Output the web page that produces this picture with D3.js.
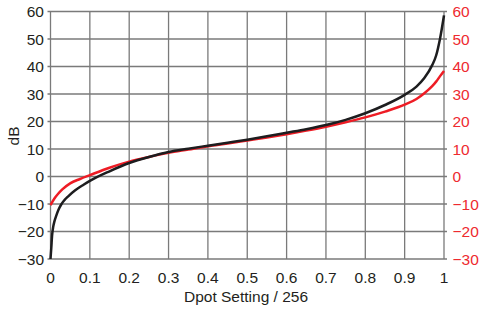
<!DOCTYPE html>
<html>
<head>
<meta charset="utf-8">
<script src="https://d3js.org/d3.v7.min.js"></script>
<style>
body { margin:0; background:#fff; }
text { font-family: "Liberation Sans", Arial, sans-serif; }
</style>
</head>
<body>
<svg width="484" height="313"></svg>
<script>
// dpot setting (fraction of 256)
var xTicks = [0,0.1,0.2,0.3,0.4,0.5,0.6,0.7,0.8,0.9,1];
var yTicks = [-30,-20,-10,0,10,20,30,40,50,60];

var blackX = [0,0.002,0.004,0.007,0.01,0.014,0.02,0.028,0.036,0.045,0.062,0.084,0.1,0.15,0.2,0.25,0.3,0.35,0.4,0.45,0.5,0.55,0.6,0.65,0.7,0.75,0.8,0.85,0.9,0.93,0.95,0.97,0.98,0.99,1];
var blackY = [-30,-26,-21.5,-18.2,-16.3,-14.5,-12.2,-10,-8.5,-7.2,-5.1,-3.0,-1.6,1.9,4.9,7.1,8.9,10.1,11.2,12.3,13.4,14.6,15.9,17.2,18.7,20.6,23.0,26.0,29.7,32.7,35.8,40.5,44.0,50.2,58.6];

var redX = [0,0.01,0.02,0.03,0.05,0.075,0.1,0.15,0.2,0.25,0.3,0.35,0.4,0.45,0.5,0.55,0.6,0.65,0.7,0.75,0.8,0.85,0.9,0.93,0.95,0.97,0.98,0.99,1];
var redY = [-10.4,-8,-6.2,-4.7,-2.5,-0.9,0.5,3.2,5.4,7.1,8.6,9.8,11.0,12.0,13.1,14.2,15.4,16.7,18.1,19.7,21.5,23.6,26.1,28.2,30.3,32.9,34.5,36.5,38.4];

var svg = d3.select("svg");
var x = d3.scaleLinear().domain([0,1]).range([50.5,444]);
var y = d3.scaleLinear().domain([-30,60]).range([259,11.5]);
var fmt = function(d){ return d < 0 ? "\u2212" + Math.abs(d) : String(d); };

// grid
var grid = svg.append("g").attr("stroke","#7a7a7a").attr("stroke-width",1.3);
grid.selectAll(".gv").data(xTicks).enter().append("line")
    .attr("x1",function(d){return x(d);}).attr("x2",function(d){return x(d);})
    .attr("y1",y(-30)).attr("y2",y(60));
grid.selectAll(".gh").data(yTicks).enter().append("line")
    .attr("x1",x(0)-3).attr("x2",x(1)+3)
    .attr("y1",function(d){return y(d);}).attr("y2",function(d){return y(d);});

// left axis labels
svg.append("g").selectAll("text").data(yTicks).enter().append("text")
    .attr("x",44).attr("y",function(d){return y(d)+5.5;})
    .attr("text-anchor","end").style("font-size","15.5px").attr("fill","#231f20")
    .text(fmt);
// right axis labels
svg.append("g").selectAll("text").data(yTicks).enter().append("text")
    .attr("x",452.5).attr("y",function(d){return y(d)+5.5;})
    .attr("text-anchor","start").style("font-size","15.5px").attr("fill","#ee2a2f")
    .text(fmt);
// bottom labels
svg.append("g").selectAll("text").data(xTicks).enter().append("text")
    .attr("x",function(d){return x(d);}).attr("y",283)
    .attr("text-anchor","middle").style("font-size","15.5px").attr("fill","#231f20")
    .text(function(d){return String(d);});

svg.append("text").text("Dpot Setting / 256")
    .attr("x",246).attr("y",302).attr("text-anchor","middle")
    .style("font-size","15.5px").attr("fill","#231f20");
svg.append("text").text("dB")
    .attr("transform","translate(18.5,136) rotate(-90)").attr("text-anchor","middle")
    .style("font-size","15.5px").attr("fill","#231f20");

var line = d3.line().x(function(d){return x(d[0]);}).y(function(d){return y(d[1]);})
    .curve(d3.curveMonotoneX);

svg.append("path").datum(d3.zip(redX,redY)).attr("d",line)
    .attr("fill","none").attr("stroke","#ee1c25").attr("stroke-width",2.5);
svg.append("path").datum(d3.zip(blackX,blackY)).attr("d",line)
    .attr("fill","none").attr("stroke","#1d1d1f").attr("stroke-width",2.5);
</script>
</body>
</html>
